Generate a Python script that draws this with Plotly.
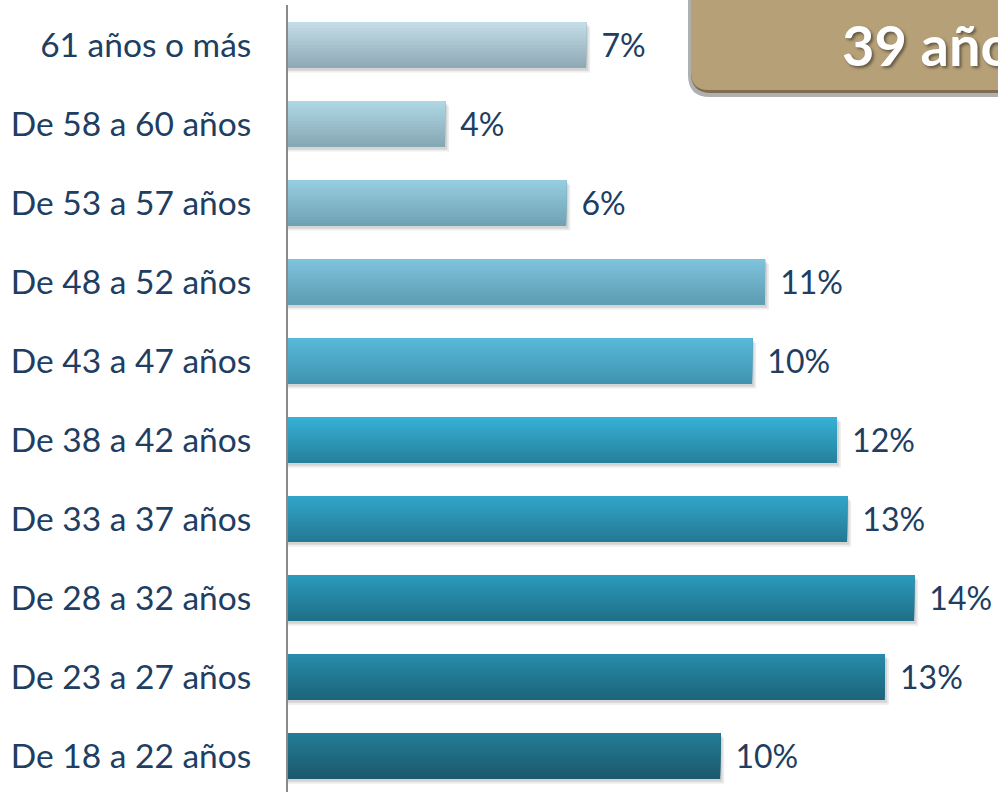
import plotly.graph_objects as go

# ---- data (bottom to top) ----
categories = ["De 18 a 22 años", "De 23 a 27 años", "De 28 a 32 años", "De 33 a 37 años",
              "De 38 a 42 años", "De 43 a 47 años", "De 48 a 52 años", "De 53 a 57 años",
              "De 58 a 60 años", "61 años o más"]
values = [9.74, 13.45, 14.11, 12.60, 12.37, 10.46, 10.75, 6.27, 3.54, 6.72]
badge_text = "39 años"

# ---- styles ----
top_colors = ["#237C95", "#278BA9", "#2B99BB", "#30A5C8", "#36B0D5",
              "#58B8D9", "#7DC3DC", "#95CDE0", "#AED6E3", "#C3DCE6"]
bot_colors = ["#1B596D", "#1C657C", "#1F7089", "#247A94", "#26819D",
              "#3F95B0", "#5E9DB2", "#70A2B4", "#86A8B5", "#8FAAB6"]
text_color = "#203D62"
FONT = "Lato"

W, H = 998, 792
ML, MT, MB, MR = 288, 5, 0, 0
PW, PH = W - ML - MR, H - MT - MB

def hex2rgb(h):
    h = h.lstrip("#")
    return tuple(int(h[i:i + 2], 16) for i in (0, 2, 4))

def mix(c1, c2, t):
    a, b = hex2rgb(c1), hex2rgb(c2)
    return "rgb(%d,%d,%d)" % tuple(round(a[i] + (b[i] - a[i]) * t) for i in range(3))

bw = 0.58
N = 16
fig = go.Figure()

# soft shadows
for dx, dy, alpha in [(0.09, 0.06, 0.07), (0.05, 0.035, 0.10)]:
    fig.add_trace(go.Bar(x=[v + dx for v in values], y=categories, orientation="h",
                         width=bw, offset=-bw / 2 - dy,
                         marker=dict(color="rgba(0,0,0,%.2f)" % alpha, line=dict(width=0)),
                         hoverinfo="skip", showlegend=False))

# gradient slices (bottom to top)
for k in range(N):
    off = -bw / 2 + k * bw / N
    t = k / (N - 1)
    cols = [mix(b, tp, t) for b, tp in zip(bot_colors, top_colors)]
    fig.add_trace(go.Bar(x=values, y=categories, orientation="h",
                         width=bw / 2 - off, offset=off,
                         marker=dict(color=cols, line=dict(width=0)),
                         hoverinfo="skip", showlegend=False))

# labels
fig.add_trace(go.Bar(x=values, y=categories, orientation="h", width=bw, offset=-bw / 2,
                     marker=dict(color="rgba(0,0,0,0)", line=dict(width=0)),
                     texttemplate="\u00a0\u2009%{x:.0f}%", textposition="outside",
                     textfont=dict(family=FONT, size=32, color=text_color),
                     constraintext="none", cliponaxis=False, showlegend=False))

# badge (rounded box) in paper coords
def px2paper(px, py):
    return (px - ML) / PW, (H - MB - py) / PH

def rounded_box(x0, y0, x1, y1, r):
    def P(x, y):
        a, b = px2paper(x, y)
        return "%.5f,%.5f" % (a, b)
    return "M %s L %s Q %s %s L %s L %s Z" % (
        P(x0, y0), P(x0, y1 - r), P(x0, y1), P(x0 + r, y1), P(x1, y1), P(x1, y0))

shapes = [
    dict(type="path", xref="paper", yref="paper", path=rounded_box(688, -20, 1100, 97, 22),
         fillcolor="#B0B0B0", line=dict(width=0), layer="above"),
    dict(type="path", xref="paper", yref="paper", path=rounded_box(691, -20, 1100, 93, 20),
         fillcolor="#7E6D4F", line=dict(width=0), layer="above"),
    dict(type="path", xref="paper", yref="paper", path=rounded_box(691, -20, 1100, 90, 18),
         fillcolor="#B6A078", line=dict(width=0), layer="above"),
]
ax, ay = px2paper(840, 45)
fig.add_annotation(xref="paper", yref="paper", x=ax, y=ay, xanchor="left", yanchor="middle",
                   text="<b>%s</b>" % badge_text, showarrow=False,
                   font=dict(family=FONT, size=56, color="white",
                             shadow="2px 2px 3px rgba(0,0,0,0.45)"))

fig.update_layout(
    width=W, height=H, margin=dict(l=ML, r=MR, t=MT, b=MB, pad=0),
    paper_bgcolor="white", plot_bgcolor="white",
    barmode="overlay", showlegend=False, shapes=shapes,
    xaxis=dict(range=[0, 16.0], visible=False, showgrid=False, zeroline=False),
    yaxis=dict(type="category", categoryorder="array", categoryarray=categories,
               range=[-0.456, 9.506], showgrid=False, zeroline=False,
               showline=True, linecolor="#8A8A8A", linewidth=2,
               ticks="", ticklabelstandoff=28,
               tickfont=dict(family=FONT, size=33.5, color=text_color)),
    font=dict(family=FONT),
)

fig.write_html("out.html", config={"displayModeBar": False},
               post_script="document.body.style.margin='0';document.body.style.overflow='hidden';")
